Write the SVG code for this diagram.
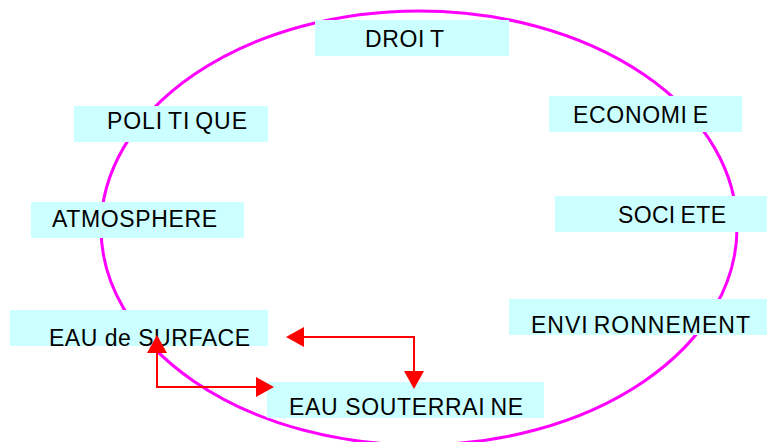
<svg xmlns="http://www.w3.org/2000/svg" width="767" height="442" viewBox="0 0 767 442">
<style>
  .box { fill: #CCFFFF; stroke: none; }
  .lbl { font-family: "Liberation Sans", Arial, sans-serif; font-size: 23px; fill: #000000; }
  .ring { fill: none; stroke: #FF00FF; stroke-width: 3; }
  .conn { fill: none; stroke: #FF0000; stroke-width: 2; }
</style>
<defs>
  <marker id="ah" viewBox="0 0 18 20" refX="16" refY="10" markerWidth="18" markerHeight="20" markerUnits="userSpaceOnUse" orient="auto-start-reverse">
    <path d="M0,0 L18,10 L0,20 z" fill="#FF0000"/>
  </marker>
</defs>
<rect width="767" height="442" fill="#FFFFFF"/>
<ellipse class="ring" cx="419" cy="228" rx="318" ry="217"/>
<g id="droit">
  <rect class="box" x="315" y="20" width="194" height="36"/>
  <text class="lbl" x="365" y="47" textLength="79" lengthAdjust="spacing">DROI<tspan dx="5">T</tspan></text>
</g>
<g id="economie">
  <rect class="box" x="549" y="96" width="193" height="36"/>
  <text class="lbl" x="573" y="123" textLength="135" lengthAdjust="spacing">ECONOMI<tspan dx="5">E</tspan></text>
</g>
<g id="politique">
  <rect class="box" x="74" y="106" width="194" height="36"/>
  <text class="lbl" x="107" y="129" textLength="140" lengthAdjust="spacing">POLI<tspan dx="5">TI</tspan><tspan dx="5">QUE</tspan></text>
</g>
<g id="atmosphere">
  <rect class="box" x="31" y="202" width="213" height="36"/>
  <text class="lbl" x="52" y="227" textLength="165" lengthAdjust="spacing">ATMOSPHERE</text>
</g>
<g id="societe">
  <rect class="box" x="555" y="196" width="212" height="36"/>
  <text class="lbl" x="618" y="223" textLength="108" lengthAdjust="spacing">SOCI<tspan dx="5">ETE</tspan></text>
</g>
<g id="environnement">
  <rect class="box" x="509" y="299" width="258" height="36"/>
  <text class="lbl" x="531" y="333" textLength="219" lengthAdjust="spacing">ENVI<tspan dx="5">RONNEMENT</tspan></text>
</g>
<g id="eau-surface">
  <rect class="box" x="10" y="310" width="258" height="36"/>
  <text class="lbl" x="49" y="346" textLength="201" lengthAdjust="spacing">EAU de SURFACE</text>
</g>
<g id="eau-souterraine">
  <rect class="box" x="267" y="382" width="277" height="36"/>
  <text class="lbl" x="289" y="415" textLength="234" lengthAdjust="spacing">EAU SOUTERRAI<tspan dx="5">NE</tspan></text>
</g>
<g id="connectors">
  <path class="conn" d="M288,337 H414 V387" marker-start="url(#ah)" marker-end="url(#ah)"/>
  <path class="conn" d="M157,337 V387 H272" marker-start="url(#ah)" marker-end="url(#ah)"/>
</g>
</svg>
